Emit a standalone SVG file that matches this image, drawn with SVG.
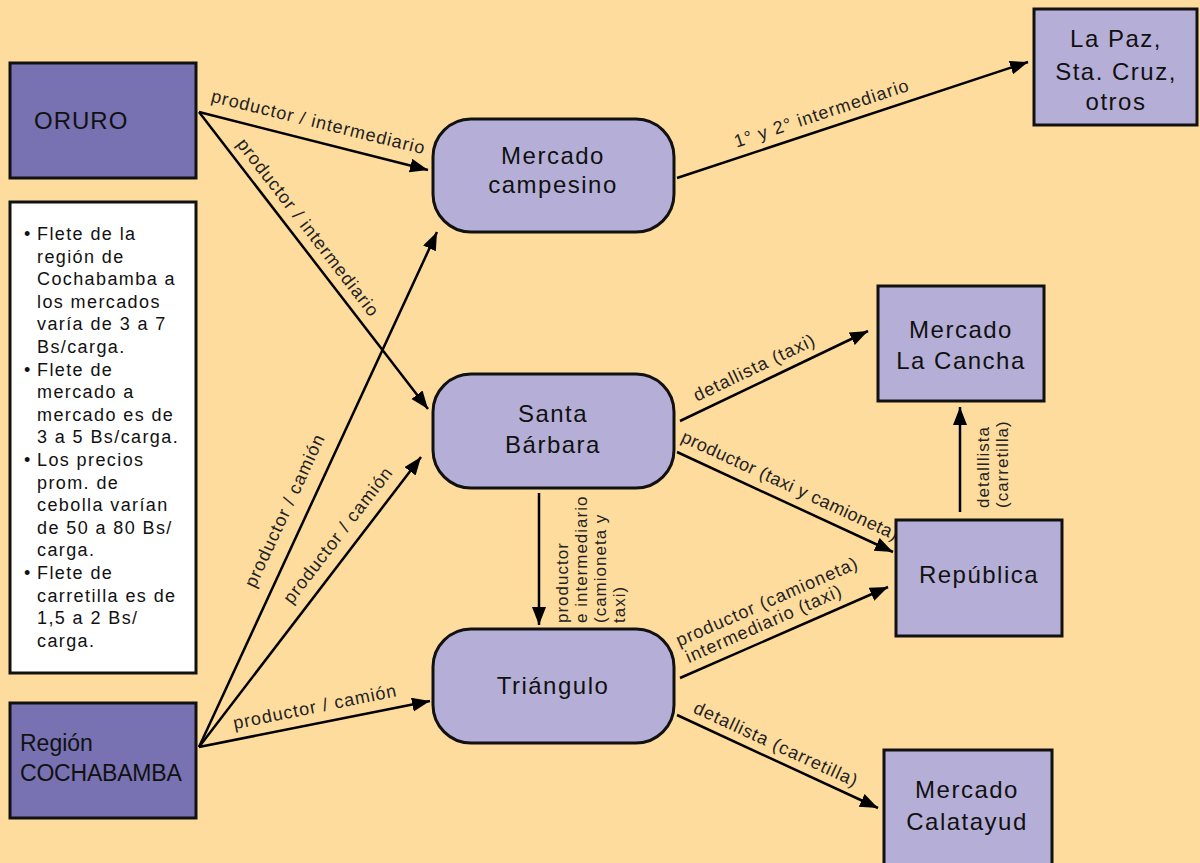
<svg xmlns="http://www.w3.org/2000/svg" width="1200" height="863" viewBox="0 0 1200 863">
<style>
.bg{fill:#FEDC9E}
.dark{fill:#7872B3;stroke:#111;stroke-width:3}
.light{fill:#B5AFD7;stroke:#111;stroke-width:3}
.note{fill:#fff;stroke:#111;stroke-width:3}
.nt{font-family:"Liberation Sans",Arial,sans-serif;font-size:24px;letter-spacing:1.5px;fill:#111;text-anchor:middle}
.lb{font-family:"Liberation Sans",Arial,sans-serif;font-size:18px;letter-spacing:1px;fill:#222;text-anchor:middle}
.lbs{font-family:"Liberation Sans",Arial,sans-serif;font-size:17px;letter-spacing:1px;fill:#222}
.tx{font-family:"Liberation Sans",Arial,sans-serif;font-size:18px;letter-spacing:1.4px;fill:#111}
.cn line{stroke:#000;stroke-width:2.5;marker-end:url(#ah)}
</style>
<defs>
<marker id="ah" markerUnits="userSpaceOnUse" markerWidth="20" markerHeight="16" refX="18" refY="7" orient="auto">
<path d="M0,0 L18,7 L0,14 z" fill="#000"/>
</marker>
</defs>
<rect class="bg" x="0" y="0" width="1200" height="863"/>

<g class="cn" id="connectors">
<line x1="199" y1="112" x2="428" y2="170"/>
<line x1="199" y1="112" x2="428" y2="409"/>
<line x1="677" y1="178" x2="1028" y2="62"/>
<line x1="199" y1="747" x2="437" y2="232"/>
<line x1="199" y1="747" x2="421" y2="457"/>
<line x1="199" y1="747" x2="430" y2="701"/>
<line x1="539" y1="493" x2="539" y2="625"/>
<line x1="680" y1="421" x2="868" y2="331"/>
<line x1="677" y1="452" x2="893" y2="552"/>
<line x1="960" y1="512" x2="960" y2="407"/>
<line x1="680" y1="678" x2="888" y2="587"/>
<line x1="677" y1="715" x2="878" y2="808"/>
</g>

<g id="labels">
<text class="lb" transform="translate(317,128) rotate(13.9)">productor / intermediario</text>
<text class="lb" transform="translate(303.4,231.3) rotate(52.3)">productor / intermediario</text>
<text class="lb" transform="translate(823.5,119) rotate(-18.3)">1° y 2° intermediario</text>
<text class="lb" transform="translate(290.2,513.1) rotate(-65.1)">productor / camión</text>
<text class="lb" transform="translate(342.7,538.7) rotate(-52.4)">productor / camión</text>
<text class="lb" transform="translate(316.3,712.7) rotate(-11.5)">productor / camión</text>
<text class="lbs" transform="translate(568,623) rotate(-90)">productor</text>
<text class="lbs" transform="translate(587,623) rotate(-90)">e intermediario</text>
<text class="lbs" transform="translate(606,623) rotate(-90)">(camioneta y</text>
<text class="lbs" transform="translate(625,623) rotate(-90)">taxi)</text>
<text class="lb" transform="translate(757,373) rotate(-25.6)">detallista (taxi)</text>
<text class="lb" style="letter-spacing:0.5px" transform="translate(787.5,491) rotate(24.8)">productor (taxi y camioneta)</text>
<text class="lbs" transform="translate(989,508) rotate(-90)">detalllista</text>
<text class="lbs" transform="translate(1008,508) rotate(-90)">(carretilla)</text>
<text class="lb" style="text-anchor:start" transform="translate(679.3,646.7) rotate(-23.7)">productor (camioneta)</text>
<text class="lb" style="text-anchor:start" transform="translate(688.8,663.2) rotate(-23.7)">intermediario (taxi)</text>
<text class="lb" transform="translate(773.5,749.8) rotate(24.8)">detallista (carretilla)</text>
</g>

<g id="oruro">
<rect class="dark" x="10" y="63" width="186" height="115"/>
<text class="nt" style="text-anchor:start;letter-spacing:1px" x="34" y="129">ORURO</text>
</g>

<g id="notes">
<rect class="note" x="10" y="202" width="186" height="471"/>
<text class="tx" x="24" y="240">•</text>
<text class="tx" x="37" y="240">Flete de la</text>
<text class="tx" x="37" y="262.6">región de</text>
<text class="tx" x="37" y="285.2">Cochabamba a</text>
<text class="tx" x="37" y="307.8">los mercados</text>
<text class="tx" x="37" y="330.4">varía de 3 a 7</text>
<text class="tx" x="37" y="353">Bs/carga.</text>
<text class="tx" x="24" y="375.6">•</text>
<text class="tx" x="37" y="375.6">Flete de</text>
<text class="tx" x="37" y="398.2">mercado a</text>
<text class="tx" x="37" y="420.8">mercado es de</text>
<text class="tx" x="37" y="443.4">3 a 5 Bs/carga.</text>
<text class="tx" x="24" y="466">•</text>
<text class="tx" x="37" y="466">Los precios</text>
<text class="tx" x="37" y="488.6">prom. de</text>
<text class="tx" x="37" y="511.2">cebolla varían</text>
<text class="tx" x="37" y="533.8">de 50 a 80 Bs/</text>
<text class="tx" x="37" y="556.4">carga.</text>
<text class="tx" x="24" y="579">•</text>
<text class="tx" x="37" y="579">Flete de</text>
<text class="tx" x="37" y="601.6">carretilla es de</text>
<text class="tx" x="37" y="624.2">1,5 a 2 Bs/</text>
<text class="tx" x="37" y="646.8">carga.</text>
</g>

<g id="region-cochabamba">
<rect class="dark" x="10" y="703" width="186" height="115"/>
<text class="nt" style="text-anchor:start;font-size:23px;letter-spacing:0" x="20" y="751">Región</text>
<text class="nt" style="text-anchor:start;font-size:23px;letter-spacing:-0.2px" x="20" y="781">COCHABAMBA</text>
</g>

<g id="mercado-campesino">
<rect class="light" x="433" y="119" width="241" height="113" rx="38" ry="38"/>
<text class="nt" x="553" y="164">Mercado</text>
<text class="nt" x="553" y="193">campesino</text>
</g>

<g id="santa-barbara">
<rect class="light" x="433" y="374" width="241" height="114" rx="38" ry="38"/>
<text class="nt" x="553" y="422">Santa</text>
<text class="nt" x="553" y="453">Bárbara</text>
</g>

<g id="triangulo">
<rect class="light" x="433" y="629" width="241" height="114" rx="38" ry="38"/>
<text class="nt" x="553" y="694">Triángulo</text>
</g>

<g id="la-paz">
<rect class="light" x="1034" y="9" width="163" height="116"/>
<text class="nt" x="1116" y="47">La Paz,</text>
<text class="nt" x="1116" y="80">Sta. Cruz,</text>
<text class="nt" x="1116" y="110">otros</text>
</g>

<g id="mercado-la-cancha">
<rect class="light" x="878" y="286" width="166" height="115"/>
<text class="nt" x="961" y="338">Mercado</text>
<text class="nt" x="961" y="369">La Cancha</text>
</g>

<g id="republica">
<rect class="light" x="896" y="520" width="166" height="116"/>
<text class="nt" x="979" y="583">República</text>
</g>

<g id="mercado-calatayud">
<rect class="light" x="884" y="750" width="168" height="120"/>
<text class="nt" x="967" y="798">Mercado</text>
<text class="nt" x="967" y="830">Calatayud</text>
</g>
</svg>
